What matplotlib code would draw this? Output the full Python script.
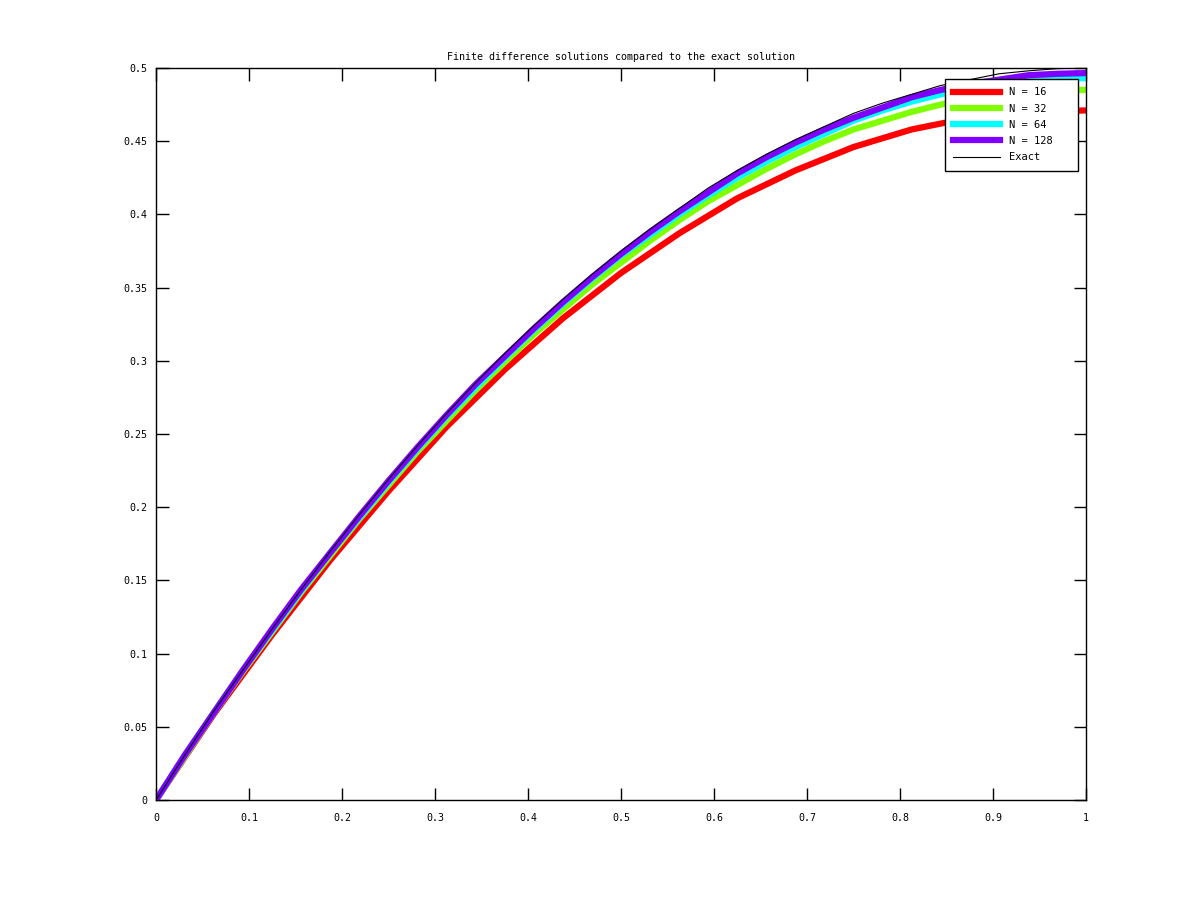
import matplotlib
matplotlib.use("Agg")
import matplotlib.pyplot as plt

# coarse grid (N = 16) and the values
x16 = [0, 0.0625, 0.125, 0.1875, 0.25, 0.3125, 0.375, 0.4375, 0.5,
       0.5625, 0.625, 0.6875, 0.75, 0.8125, 0.875, 0.9375, 1.0]
u_n16 = [0, 0.059, 0.113, 0.164, 0.211, 0.255, 0.294, 0.329, 0.360,
         0.387, 0.411, 0.430, 0.446, 0.458, 0.466, 0.470, 0.471]

# finer grid used for the other curves
x32 = [0, 0.03125, 0.0625, 0.09375, 0.125, 0.15625, 0.1875, 0.21875, 0.25,
       0.28125, 0.3125, 0.34375, 0.375, 0.40625, 0.4375, 0.46875, 0.5,
       0.53125, 0.5625, 0.59375, 0.625, 0.65625, 0.6875, 0.71875, 0.75,
       0.78125, 0.8125, 0.84375, 0.875, 0.90625, 0.9375, 0.96875, 1.0]
u_n32 = [0, 0.030, 0.060, 0.088, 0.115, 0.142, 0.167, 0.192, 0.215,
         0.238, 0.259, 0.280, 0.299, 0.318, 0.335, 0.352, 0.367,
         0.382, 0.396, 0.409, 0.420, 0.431, 0.441, 0.450, 0.458,
         0.464, 0.470, 0.475, 0.479, 0.482, 0.484, 0.485, 0.485]
u_n64 = [0, 0.031, 0.060, 0.089, 0.116, 0.143, 0.169, 0.193, 0.217,
         0.240, 0.262, 0.282, 0.302, 0.321, 0.339, 0.356, 0.372,
         0.386, 0.400, 0.413, 0.425, 0.436, 0.446, 0.455, 0.464,
         0.471, 0.477, 0.482, 0.486, 0.489, 0.491, 0.493, 0.493]
u_n128 = [0, 0.031, 0.060, 0.089, 0.117, 0.144, 0.169, 0.194, 0.218,
          0.241, 0.263, 0.284, 0.303, 0.322, 0.340, 0.357, 0.373,
          0.388, 0.402, 0.415, 0.428, 0.439, 0.449, 0.458, 0.466,
          0.473, 0.480, 0.485, 0.489, 0.492, 0.495, 0.496, 0.4965]
u_exact = [0, 0.031, 0.061, 0.089, 0.117, 0.144, 0.170, 0.195, 0.219,
           0.242, 0.264, 0.285, 0.305, 0.324, 0.342, 0.359, 0.375,
           0.390, 0.404, 0.418, 0.430, 0.441, 0.451, 0.460, 0.469,
           0.476, 0.482, 0.488, 0.492, 0.496, 0.498, 0.4995, 0.500]

labels = ["N = 16", "N = 32", "N = 64", "N = 128"]
colors = ["#ff0000", "#80ff00", "#00ffff", "#8000ff"]

x_ticks = [0, 0.1, 0.2, 0.3, 0.4, 0.5, 0.6, 0.7, 0.8, 0.9, 1]
y_ticks = [0, 0.05, 0.1, 0.15, 0.2, 0.25, 0.3, 0.35, 0.4, 0.45, 0.5]

plt.rcParams["font.family"] = "DejaVu Sans Mono"
plt.rcParams["font.size"] = 7.2

fig = plt.figure(figsize=(12, 9), dpi=100)
ax = fig.add_axes([0.13, 0.111, 0.775, 0.8135])

series = [(x16, u_n16), (x32, u_n32), (x32, u_n64), (x32, u_n128)]
for (xs, ys), lab, col in zip(series, labels, colors):
    ax.plot(xs, ys, color=col, linewidth=4.5, label=lab)
ax.plot(x32, u_exact, color="black", linewidth=0.8, label="Exact")

ax.set_xlim(0, 1)
ax.set_ylim(0, 0.5)
ax.set_xticks(x_ticks)
ax.set_xticklabels([f"{v:g}" for v in x_ticks])
ax.set_yticks(y_ticks)
ax.set_yticklabels([f"{v:g}" for v in y_ticks])
ax.tick_params(direction="in", length=9, width=1, top=True, right=True)
ax.tick_params(axis="x", pad=9)
ax.tick_params(axis="y", pad=6)
for s in ax.spines.values():
    s.set_linewidth(1)
ax.set_title("Finite difference solutions compared to the exact solution",
             fontsize=7.2, pad=6)

# legend box placed where the reference has it (axes fractions)
leg = ax.legend(loc="upper left", bbox_to_anchor=(0.8484, 0.865, 0.143, 0.12),
                mode="expand", borderaxespad=0,
                fancybox=False, framealpha=1, edgecolor="black",
                handlelength=4.5, borderpad=0.8, labelspacing=0.6,
                handletextpad=0.8, fontsize=7.5)
leg.get_frame().set_linewidth(1)

fig.savefig("out.png", dpi=100)
